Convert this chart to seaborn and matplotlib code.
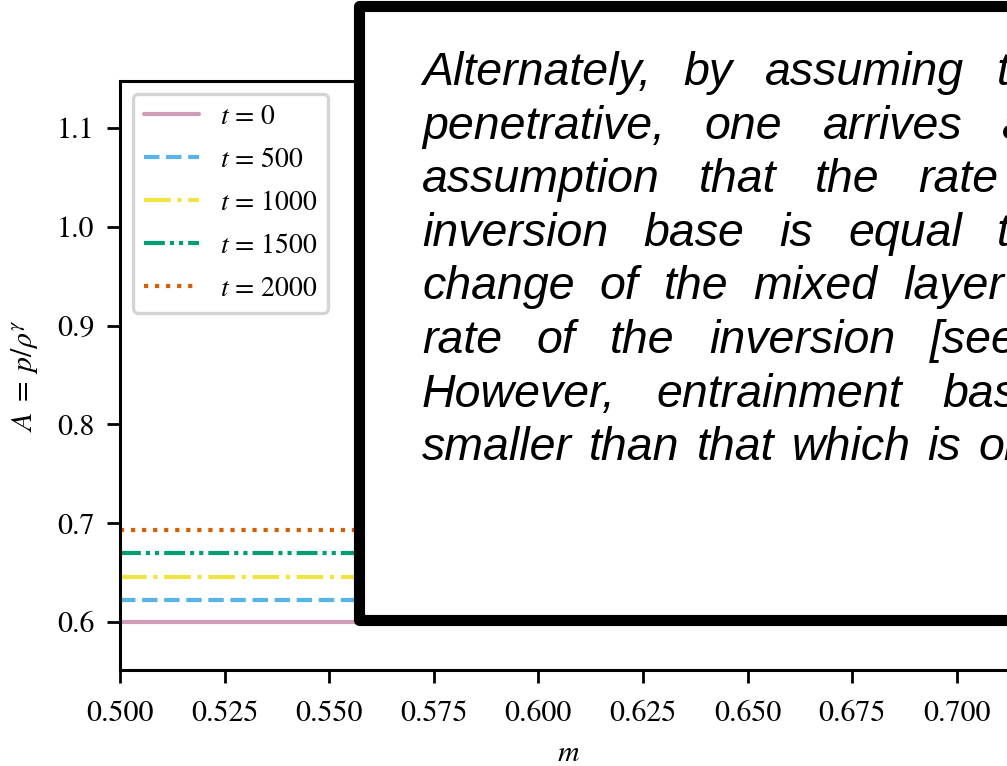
import numpy as np
import matplotlib
matplotlib.use("Agg")
import matplotlib.pyplot as plt
import seaborn as sns
from matplotlib.patches import Rectangle

# ---------------- data ----------------
m_range = [0.500, 0.714]
series_labels = ["$t$ = 0", "$t$ = 500", "$t$ = 1000", "$t$ = 1500", "$t$ = 2000"]
A_t0 = [0.600, 0.600]
A_t500 = [0.622, 0.622]
A_t1000 = [0.646, 0.646]
A_t1500 = [0.670, 0.670]
A_t2000 = [0.693, 0.693]
series_colors = ["#CF9DB8", "#56B4E9", "#F0E442", "#009E73", "#D55E00"]
series_styles = ["-", (0, (3.7, 1.6)), (0, (6.4, 1.6, 1.0, 1.6)),
                 (0, (5.0, 1.2, 1.0, 1.2, 1.0, 1.2)), (0, (1.0, 1.65))]

x_ticks = [0.500, 0.525, 0.550, 0.575, 0.600, 0.625, 0.650, 0.675, 0.700]
x_tick_labels = ["0.500", "0.525", "0.550", "0.575", "0.600", "0.625", "0.650", "0.675", "0.700"]
y_ticks = [0.6, 0.7, 0.8, 0.9, 1.0, 1.1]
y_tick_labels = ["0.6", "0.7", "0.8", "0.9", "1.0", "1.1"]

# overlay paragraph, justified; each line runs from the left margin to the
# left edge of its last visible word (pixels), words spread evenly between.
para_lines = [
    ["Alternately,", "by", "assuming", "that"],
    ["penetrative,", "one", "arrives", "at"],
    ["assumption", "that", "the", "rate"],
    ["inversion", "base", "is", "equal", "to"],
    ["change", "of", "the", "mixed", "layer"],
    ["rate", "of", "the", "inversion", "[see"],
    ["However,", "entrainment", "based"],
    ["smaller", "than", "that", "which", "is", "observed"],
]
para_last_word_x = [997, 1002, 918, 997, 903, 930, 942, 978]
para_left_x = 422

# ---------------- style ----------------
sns.set_style("ticks", {"axes.edgecolor": "black", "xtick.color": "black",
                        "ytick.color": "black", "text.color": "black",
                        "axes.labelcolor": "black"})
plt.rcParams["font.family"] = ["STIXGeneral", "DejaVu Sans"]
plt.rcParams["mathtext.fontset"] = "stix"

W, H = 1007, 766
fig = plt.figure(figsize=(W / 100, H / 100), dpi=100)
fig.patch.set_facecolor("white")
ax = fig.add_axes([120 / W, (H - 670) / H, (1016.7 - 120) / W, (670 - 81) / H])

series_values = [A_t0, A_t500, A_t1000, A_t1500, A_t2000]
for lab, vals, col, ls in zip(series_labels, series_values, series_colors, series_styles):
    sns.lineplot(x=m_range, y=vals, color=col, linestyle=ls, linewidth=3,
                 label=lab, ax=ax)

ax.set_xlim(0.5, 0.7143)
ax.set_ylim(0.5515, 1.1475)
ax.set_xticks(x_ticks)
ax.set_xticklabels(x_tick_labels)
ax.set_yticks(y_ticks)
ax.set_yticklabels(y_tick_labels)
ax.tick_params(direction="out", length=9.5, width=2.0, labelsize=21.5)
ax.tick_params(axis="x", pad=12)
ax.tick_params(axis="y", pad=9)
for sp in ax.spines.values():
    sp.set_linewidth(2.2)
    sp.set_visible(True)
ax.set_xlabel(r"$m$", fontsize=21.5, labelpad=9)
ax.set_ylabel(r"$A\;=\;p/\rho^{\gamma}$", fontsize=21.5, labelpad=12)

leg = ax.legend(loc="upper left", fontsize=20, frameon=True, fancybox=True,
                edgecolor="#d5d5d5", framealpha=1.0, borderaxespad=0.45,
                handlelength=2.0, handletextpad=0.75, labelspacing=0.63,
                borderpad=0.4)
leg.get_frame().set_linewidth(2.4)

# ---------------- overlay text box ----------------
box = Rectangle((359 / W, (H - 619.5) / H), 1.0, (619.5 - 6) / H,
                transform=fig.transFigure, facecolor="white", edgecolor="black",
                linewidth=8, joinstyle="round", zorder=10)
fig.add_artist(box)

baseline0 = 85.0
line_step = 53.6
text_kw = dict(fontsize=33.5, family="Liberation Sans", style="italic",
               ha="left", va="baseline", zorder=11, color="black")
renderer = fig.canvas.get_renderer()
for i, (words, x_last) in enumerate(zip(para_lines, para_last_word_x)):
    yb = baseline0 + i * line_step
    arts = [fig.text(0, 1 - yb / H, w, **text_kw) for w in words]
    widths = [a.get_window_extent(renderer).width for a in arts]
    gap = (x_last - para_left_x - sum(widths[:-1])) / (len(words) - 1)
    x = para_left_x
    for a, wd in zip(arts, widths):
        a.set_x(x / W)
        x += wd + gap

fig.savefig("out.png", dpi=100, facecolor="white")
